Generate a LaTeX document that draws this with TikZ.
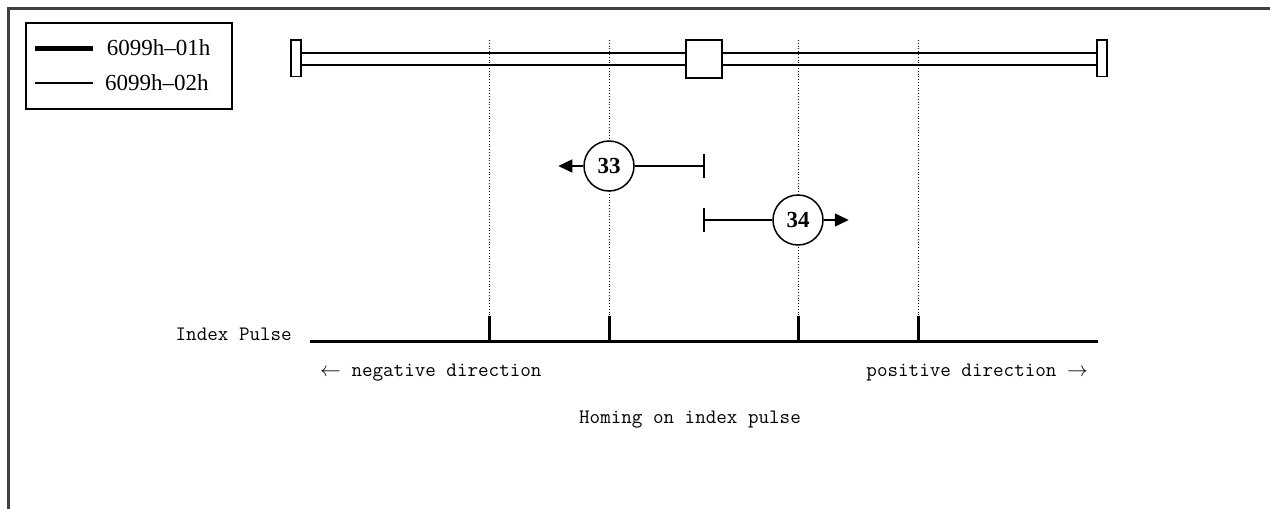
\documentclass[tikz,border=0pt]{standalone}
\usepackage{fontspec}
\setmainfont{Liberation Serif}
\usetikzlibrary{arrows.meta}
\tikzset{
  rail/.style={line width=1.5pt},
  guide/.style={dotted, line width=0.8pt},
  pulse/.style={line width=3pt},
  homing/.style={circle, draw, line width=1.5pt, fill=white, minimum size=50pt, inner sep=0pt,
    font=\fontsize{23}{25}\selectfont\bfseries},
  run/.style={line width=1.5pt},
  txt/.style={font=\ttfamily\fontsize{20.5}{24}\selectfont, inner sep=0pt},
}
\begin{document}
\begin{tikzpicture}[x=1pt,y=-1pt]
  \useasboundingbox (0,0) rectangle (1270,509);
  % Khung ngoai
  \draw[line width=2.5pt, black!75] (1270,8.5) -- (8.5,8.5) -- (8.5,509);
  % Chu thich
  \draw[line width=1.5pt] (26,23) rectangle (232,109);
  \coordinate (lega) at (35,48);
  \coordinate (legb) at (93,48);
  \coordinate (legc) at (35,83);
  \coordinate (legd) at (93,83);
  \draw[line width=5pt] (lega) -- (legb) node[right, xshift=8pt, font=\fontsize{23}{25}\selectfont] (leg1) {6099h--01h};
  \draw[line width=1.5pt] (legc) -- (legd) node[right, xshift=8pt, font=\fontsize{23}{25}\selectfont] (leg2) {6099h--02h};
  % Duong dan va cac xung chi so
  \foreach \x in {489,609,798,918} {
    \draw[guide] (\x,40) -- (\x,316);
    \draw[pulse] (\x,316) -- (\x,342);
  }
  \draw[line width=2.5pt] (310,341.5) -- (1098,341.5);
  % Thanh truot
  \draw[rail] (301,53) -- (1097,53);
  \draw[rail] (301,65) -- (1097,65);
  \draw[rail, fill=white] (291,40) rectangle (301,76.5);
  \draw[rail, fill=white] (1097,40) rectangle (1107,76.5);
  \draw[rail, fill=white] (686,40) rectangle (722,78);
  % Phuong thuc 33 va 34
  \node[homing] (h33) at (609,166) {33};
  \node[homing] (h34) at (798,220) {34};
  \coordinate (s33) at (704,166);
  \coordinate (s34) at (704,220);
  \draw[run] (h33) -- (s33);
  \draw[run] ([yshift=12pt]s33) -- ([yshift=-12pt]s33);
  \draw[run] (s34) -- (h34);
  \draw[run] ([yshift=12pt]s34) -- ([yshift=-12pt]s34);
  \draw[run, -{Triangle[length=14pt,width=13pt]}] (h33.west) -- ++(-25,0);
  \draw[run, -{Triangle[length=14pt,width=13pt]}] (h34.east) -- ++(25,0);
  % Cac nhan
  \node[txt, anchor=east] (ip) at (292,334) {Index Pulse};
  \node[txt, anchor=west] (neg) at (320,373) {$\leftarrow$\ negative direction};
  \node[txt, anchor=east] (pos) at (1088,373) {positive direction\ $\rightarrow$};
  \node[txt] (title) at (690,420) {Homing on index pulse};
\end{tikzpicture}
\end{document}
